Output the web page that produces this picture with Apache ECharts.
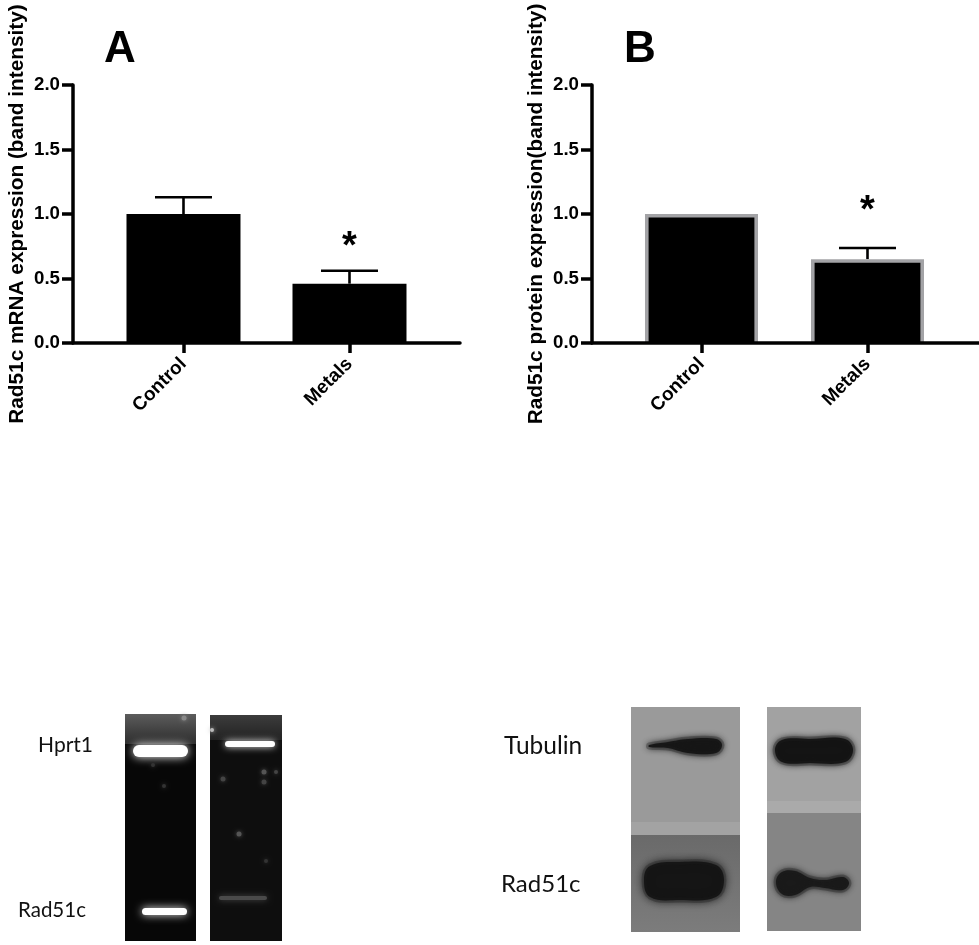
<!DOCTYPE html>
<html><head><meta charset="utf-8">
<style>html,body{margin:0;padding:0;background:#fff}#c{width:979px;height:945px}</style>
<script src="https://cdn.jsdelivr.net/npm/echarts@6/dist/echarts.min.js"></script>
</head><body><div id="c"></div>
<script>
const categories = ['Control', 'Metals'];
const yTicks = [0, 0.5, 1.0, 1.5, 2.0];
const mrnaValues = [1.0, 0.46];
const mrnaErrorTops = [1.13, 0.56];
const mrnaStar = [2, 0.782];
const proteinValues = [1.0, 0.65];
const proteinErrorTops = [null, 0.736];
const proteinStar = [2, 1.055];
const mrnaTitle = 'Rad51c mRNA expression (band intensity)';
const proteinTitle = 'Rad51c protein expression(band intensity)';

const F = '"Liberation Sans", Arial, sans-serif';
const G = 'Lato, "Noto Sans", sans-serif';
const pos = categories.map((_, i) => i + 1);

function xAxis(idx, min) {
  return {
    type: 'value', gridIndex: idx, min, max: min + 2.3313, z: 5,
    splitLine: {show: false},
    axisLine: {show: true, onZero: false, lineStyle: {color: '#000', width: 3.5}},
    axisTick: {show: true, customValues: pos, length: 10, inside: false, lineStyle: {color: '#000', width: 3.5}},
    axisLabel: {show: true, customValues: pos, rotate: 45, margin: 18, color: '#000',
      fontFamily: F, fontWeight: 'bold', fontSize: 19,
      formatter: v => categories[Math.round(v) - 1]}
  };
}
function yAxis(idx, name) {
  return {
    type: 'value', gridIndex: idx, min: 0, max: 2, interval: 0.5, z: 5,
    name, nameLocation: 'middle', nameGap: 45, nameRotate: 90,
    nameTextStyle: {color: '#000', fontFamily: F, fontWeight: 'bold', fontSize: 20.8},
    splitLine: {show: false},
    axisLine: {show: true, lineStyle: {color: '#000', width: 3.5}},
    axisTick: {show: true, length: 11, lineStyle: {color: '#000', width: 3.5}},
    axisLabel: {margin: 13, color: '#000', fontFamily: F, fontWeight: 'bold', fontSize: 18.7,
      customValues: yTicks, formatter: v => v.toFixed(1)}
  };
}
function bars(idx, values) {
  return {
    type: 'bar', xAxisIndex: idx, yAxisIndex: idx, barWidth: 114, z: 2,
    itemStyle: {color: '#000'},
    data: values.map((v, i) => [pos[i], v])
  };
}
/* grey-edged bars: the edge stops at the axis, as in the reference */
function edgedBars(idx, values) {
  return {
    type: 'custom', xAxisIndex: idx, yAxisIndex: idx, z: 2,
    data: values.map((v, i) => [pos[i], v]),
    renderItem: (p, api) => {
      const t = api.coord([api.value(0), api.value(1)]);
      const b = api.coord([api.value(0), 0]);
      const w = 113, e = 3.6;
      return {type: 'group', children: [
        {type: 'rect', shape: {x: t[0] - w / 2, y: t[1], width: w, height: b[1] - t[1]}, style: {fill: '#a3a3a6'}},
        {type: 'rect', shape: {x: t[0] - w / 2 + e, y: t[1] + e, width: w - 2 * e, height: b[1] - t[1] - e}, style: {fill: '#000'}}
      ]};
    }
  };
}
function errors(idx, values, tops) {
  return {
    type: 'custom', xAxisIndex: idx, yAxisIndex: idx, z: 1,
    data: tops.map((t, i) => [pos[i], values[i], t]).filter(d => d[2] !== null),
    renderItem: (p, api) => {
      const a = api.coord([api.value(0), api.value(1)]);
      const b = api.coord([api.value(0), api.value(2)]);
      const st = {stroke: '#000', lineWidth: 2.6};
      return {type: 'group', children: [
        {type: 'line', shape: {x1: a[0], y1: a[1], x2: b[0], y2: b[1]}, style: st},
        {type: 'line', shape: {x1: b[0] - 28.5, y1: b[1], x2: b[0] + 28.5, y2: b[1]}, style: st}
      ]};
    }
  };
}
function star(idx, p) {
  return {
    type: 'custom', xAxisIndex: idx, yAxisIndex: idx, z: 3, data: [p],
    renderItem: (x, api) => {
      const c = api.coord([api.value(0), api.value(1)]);
      return {type: 'text', style: {text: '*', x: c[0], y: c[1] + 5, align: 'center', verticalAlign: 'middle',
        fontFamily: F, fontWeight: 'bold', fontSize: 38, fill: '#000'}};
    }
  };
}

/* gel and blot photographs, drawn as decoration */
const rect = (x, y, w, h, fill, extra) => ({type: 'rect', silent: true, shape: {x, y, width: w, height: h, r: (extra && extra.r) || 0},
  style: Object.assign({fill}, extra && extra.style)});
const glow = (x, y, w, h, fill, blur, col) => rect(x, y, w, h, fill, {r: h / 2, style: {shadowBlur: blur, shadowColor: col}});
const spot = (cx, cy, r, c) => ({type: 'circle', silent: true, shape: {cx, cy, r}, style: {fill: c, shadowBlur: 4, shadowColor: c}});
const blob = (points, fill, blur) => ({type: 'polygon', silent: true, shape: {points, smooth: 0.4},
  style: {fill, stroke: 'rgba(30,30,30,0.3)', lineWidth: 5, shadowBlur: blur, shadowColor: fill}});
const label = (text, x, y, size) => ({type: 'text', silent: true, style: {text, x, y, fill: '#111', fontFamily: G, fontSize: size, verticalAlign: 'middle'}});
const vert = (a, b) => ({type: 'linear', x: 0, y: 0, x2: 0, y2: 1, colorStops: [{offset: 0, color: a}, {offset: 1, color: b}]});

const photos = [
  rect(125, 714, 71, 227, '#070707'),
  rect(125, 714, 71, 30, vert('#5c5c5c', '#2c2c2c')),
  glow(133, 745, 55, 12, '#fff', 10, '#fff'),
  glow(142, 908, 45, 7, '#fff', 9, '#eee'),
  spot(184, 718, 2.5, '#888'), spot(153, 765, 2, '#333'), spot(164, 786, 2, '#333'),
  rect(210, 715, 72, 226, '#0e0e0e'),
  rect(210, 715, 72, 25, vert('#3c3c3c', '#222')),
  glow(225, 741, 50, 6, '#fff', 7, '#eee'),
  glow(219, 896, 48, 4, '#4a4a4a', 6, '#4a4a4a'),
  spot(264, 772, 2.5, '#555'), spot(276, 772, 2, '#444'), spot(264, 782, 2.5, '#444'),
  spot(223, 779, 2.5, '#444'), spot(239, 834, 2.5, '#555'), spot(266, 861, 2, '#333'), spot(212, 730, 2, '#bbb'),

  rect(631, 707, 109, 225, '#9a9a9a'),
  rect(631, 835, 109, 97, vert('#6a6a6a', '#7c7c7c')),
  rect(631, 822, 109, 13, '#a3a3a3'),
  blob([[649, 745], [668, 742], [688, 739], [716, 739], [722, 745], [716, 753], [688, 753], [668, 748], [649, 747]], '#161616', 6),
  blob([[644, 880], [650, 866], [680, 862], [716, 865], [724, 880], [716, 897], [680, 900], [650, 897]], '#151515', 9),
  rect(767, 707, 94, 106, '#a2a2a2'),
  rect(767, 801, 94, 12, '#aaaaaa'),
  rect(767, 813, 94, 118, '#858585'),
  blob([[775, 750], [782, 740], [810, 739], [845, 739], [853, 750], [845, 762], [810, 763], [782, 762]], '#141414', 6),
  blob([[776, 882], [782, 872], [795, 871], [810, 878], [825, 880], [843, 877], [849, 883], [843, 890], [825, 888], [810, 887], [795, 895], [782, 894]], '#1a1a1a', 6),

  label('Hprt1', 38, 745, 21),
  label('Rad51c', 18, 910, 20.5),
  label('Tubulin', 504, 746, 24.5),
  label('Rad51c', 501, 884, 24),
  {type: 'text', silent: true, style: {text: 'A', x: 104, y: 50, fill: '#000', fontFamily: F, fontWeight: 'bold', fontSize: 44, verticalAlign: 'middle'}},
  {type: 'text', silent: true, style: {text: 'B', x: 624, y: 50, fill: '#000', fontFamily: F, fontWeight: 'bold', fontSize: 44, verticalAlign: 'middle'}}
];

const chart = echarts.init(document.getElementById('c'), null, {renderer: 'canvas'});
chart.setOption({
  animation: false,
  backgroundColor: '#fff',
  grid: [
    {left: 73, top: 85, width: 387, height: 258},
    {left: 592, top: 85, width: 387, height: 258}
  ],
  xAxis: [xAxis(0, 0.3344), xAxis(1, 0.3404)],
  yAxis: [yAxis(0, mrnaTitle), yAxis(1, proteinTitle)],
  series: [
    bars(0, mrnaValues), errors(0, mrnaValues, mrnaErrorTops), star(0, mrnaStar),
    edgedBars(1, proteinValues), errors(1, proteinValues, proteinErrorTops), star(1, proteinStar)
  ],
  graphic: {elements: photos}
});
</script></body></html>
